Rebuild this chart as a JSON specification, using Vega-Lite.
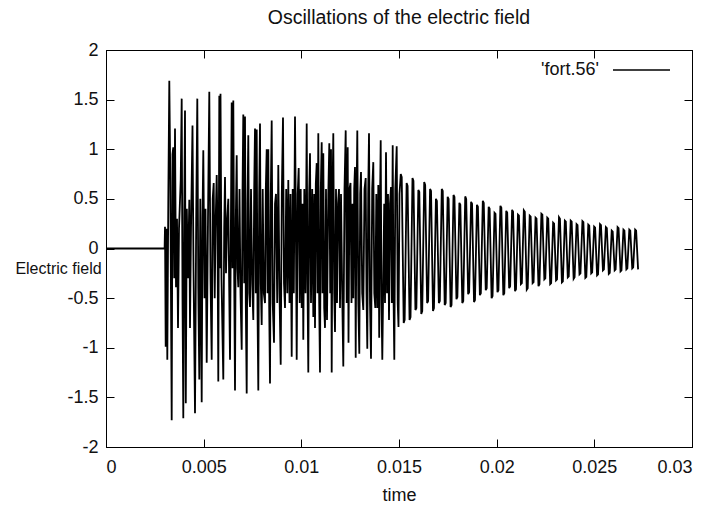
{
  "$schema": "https://vega.github.io/schema/vega-lite/v6.json",
  "width": 586,
  "height": 397,
  "autosize": "none",
  "padding": {"left": 106, "top": 50, "right": 26, "bottom": 59},
  "background": "white",
  "title": {"text": "Oscillations of the electric field", "font": "Liberation Sans", "fontSize": 19.5, "fontWeight": "normal", "color": "#111", "offset": 12, "anchor": "middle"},
  "config": {
    "view": {"stroke": "black", "strokeWidth": 1},
    "font": "Liberation Sans",
    "axis": {"grid": false, "tickColor": "black", "domainColor": "black", "tickSize": -8, "labelFont": "Liberation Sans", "labelFontSize": 18, "labelColor": "#111", "titleFont": "Liberation Sans", "titleFontSize": 18, "titleFontWeight": "normal", "titleColor": "#111"}
  },
  "layer": [
    {
      "data": {"values": [
        {"t":0,"e":0},{"t":0.003,"e":0},{"t":0.0030205,"e":0.22},{"t":0.0030563,"e":-0.99},{"t":0.0030973,"e":0.2},{"t":0.0031382,"e":-1.12},{"t":0.0031894,"e":0.5},{"t":0.0032406,"e":1.69},{"t":0.0032918,"e":0.7},{"t":0.0033635,"e":-1.73},{"t":0.0034045,"e":0.95},{"t":0.0034454,"e":1.02},{"t":0.0034915,"e":-0.3},{"t":0.0035325,"e":1.21},{"t":0.0035837,"e":-0.39},{"t":0.0036348,"e":0.3},{"t":0.003686,"e":-0.8},{"t":0.0037372,"e":0.2},{"t":0.0038243,"e":0.69},{"t":0.0038755,"e":1.51},{"t":0.0039164,"e":-0.5},{"t":0.0039574,"e":-1.71},{"t":0.0040034,"e":0.3},{"t":0.0040444,"e":1.39},{"t":0.0040854,"e":-1.56},{"t":0.0041366,"e":0.4},{"t":0.004198,"e":-0.3},{"t":0.0042645,"e":0.49},{"t":0.0043004,"e":-0.8},{"t":0.0043516,"e":0.2},{"t":0.0044284,"e":1.24},{"t":0.0044796,"e":-0.2},{"t":0.0045564,"e":-1.66},{"t":0.0046178,"e":0.3},{"t":0.0046741,"e":1.51},{"t":0.0047253,"e":-0.4},{"t":0.0047765,"e":-1.32},{"t":0.0048277,"e":0.5},{"t":0.0048994,"e":-1.55},{"t":0.0049403,"e":0.3},{"t":0.0049813,"e":0.99},{"t":0.0050427,"e":-0.5},{"t":0.0050939,"e":0.4},{"t":0.0051553,"e":-1.15},{"t":0.0052219,"e":0.3},{"t":0.0052884,"e":1.58},{"t":0.0053499,"e":-0.3},{"t":0.0054113,"e":-1.12},{"t":0.0054625,"e":0.5},{"t":0.0055137,"e":0.66},{"t":0.0055649,"e":-0.5},{"t":0.0056161,"e":0.3},{"t":0.0056673,"e":0.74},{"t":0.0057082,"e":0.2},{"t":0.0057492,"e":-1.34},{"t":0.0058004,"e":1.54},{"t":0.0058311,"e":-0.2},{"t":0.0058618,"e":1.56},{"t":0.005913,"e":-0.3},{"t":0.0060052,"e":-1.32},{"t":0.0060512,"e":0.2},{"t":0.0060922,"e":0.72},{"t":0.0061434,"e":-0.25},{"t":0.0062048,"e":0.3},{"t":0.0062611,"e":0.5},{"t":0.0063072,"e":-0.4},{"t":0.0063482,"e":-1.12},{"t":0.0063994,"e":0.4},{"t":0.0064352,"e":1.47},{"t":0.0064762,"e":-0.2},{"t":0.0065171,"e":1.49},{"t":0.0065632,"e":-0.3},{"t":0.0066042,"e":-1.43},{"t":0.0066451,"e":0.3},{"t":0.0066912,"e":0.94},{"t":0.0067321,"e":-0.2},{"t":0.0067731,"e":-0.39},
        {"t":0.0068345,"e":0.6},{"t":0.0068857,"e":-0.45},{"t":0.0069472,"e":-1.02},{"t":0.0069881,"e":0.55},{"t":0.0070291,"e":1.35},{"t":0.0070751,"e":-0.35},{"t":0.0071161,"e":1.33},{"t":0.0071571,"e":-0.55},{"t":0.0072031,"e":-1.46},{"t":0.0072441,"e":0.45},{"t":0.007285,"e":1.14},{"t":0.0073311,"e":-0.45},{"t":0.0073721,"e":-0.59},{"t":0.0074233,"e":0.6},{"t":0.0074847,"e":-0.35},{"t":0.007541,"e":-0.72},{"t":0.0075871,"e":0.6},{"t":0.0076281,"e":1.21},{"t":0.007669,"e":-0.45},{"t":0.0077151,"e":1.2},{"t":0.007756,"e":-0.6},{"t":0.007797,"e":-1.43},{"t":0.0078431,"e":0.55},{"t":0.007884,"e":1.26},{"t":0.007925,"e":-0.35},{"t":0.0079711,"e":-0.77},{"t":0.0080223,"e":0.6},{"t":0.0080786,"e":-0.45},{"t":0.00814,"e":-0.55},{"t":0.008181,"e":0.6},{"t":0.008227,"e":1.0},{"t":0.008268,"e":-0.45},{"t":0.0083089,"e":1.0},{"t":0.008355,"e":-0.6},{"t":0.008396,"e":-1.36},{"t":0.0084369,"e":0.55},{"t":0.008483,"e":1.29},{"t":0.0085342,"e":-0.55},{"t":0.0086008,"e":-0.95},{"t":0.008652,"e":0.45},{"t":0.0087032,"e":0.55},{"t":0.0087646,"e":-0.55},{"t":0.0088209,"e":0.84},{"t":0.0088823,"e":-0.45},{"t":0.0089438,"e":-1.17},{"t":0.0090001,"e":0.55},{"t":0.0090615,"e":1.32},{"t":0.0091127,"e":-0.35},{"t":0.0091639,"e":-0.6},{"t":0.0092253,"e":0.6},{"t":0.0092817,"e":-0.45},{"t":0.0093328,"e":0.69},{"t":0.0093943,"e":-0.55},{"t":0.0094455,"e":0.55},{"t":0.0095069,"e":-1.09},{"t":0.0095581,"e":0.6},{"t":0.0096144,"e":-0.45},{"t":0.0096759,"e":1.33},{"t":0.0097168,"e":0.35},{"t":0.0097629,"e":-1.12},{"t":0.0098141,"e":0.55},{"t":0.0098653,"e":0.81},{"t":0.0099165,"e":-0.55},{"t":0.0099677,"e":0.6},{"t":0.0100189,"e":-0.6},{"t":0.0100598,"e":0.45},{"t":0.0101008,"e":-0.92},{"t":0.010152,"e":0.6},{"t":0.0102134,"e":-0.45},{"t":0.0102748,"e":1.26},{"t":0.0103158,"e":-0.35},{"t":0.0103567,"e":-1.25},{"t":0.0104028,"e":0.55},{"t":0.0104438,"e":0.96},{"t":0.010495,"e":-0.55},{"t":0.0105564,"e":0.6},{"t":0.0106127,"e":-0.69},{"t":0.0106588,"e":0.55},{"t":0.0106998,"e":-0.8},{"t":0.0107407,"e":0.65},{"t":0.0107868,"e":0.86},{"t":0.0108277,"e":-0.45},{"t":0.0108687,"e":1.16},{"t":0.0109148,"e":-0.55},{"t":0.0109557,"e":-1.25},{"t":0.0109967,"e":0.6},{"t":0.0110428,"e":1.07},{"t":0.0110837,"e":-0.45},{"t":0.0111247,"e":0.96},{"t":0.0111707,"e":-0.6},{"t":0.0112117,"e":-0.8},{"t":0.0112629,"e":0.6},{"t":0.0113141,"e":-0.72},{"t":0.0113806,"e":0.55},{"t":0.0114318,"e":1.06},{"t":0.0114779,"e":-0.45},{"t":0.0115189,"e":1.0},{"t":0.0115547,"e":-1.25},{"t":0.0115957,"e":0.55},{"t":0.0116366,"e":1.16},{"t":0.0116827,"e":-0.45},{"t":0.0117237,"e":-0.84},{"t":0.0117749,"e":0.6},{"t":0.011826,"e":-0.55},{"t":0.0118772,"e":0.45},{"t":0.0119284,"e":0.6},{"t":0.0119796,"e":-0.6},{"t":0.0120308,"e":0.55},{"t":0.0120923,"e":-0.45},{"t":0.0121486,"e":-1.19},{"t":0.01221,"e":0.6},{"t":0.0122714,"e":1.19},{"t":0.0123226,"e":-0.55},{"t":0.0123738,"e":1.02},{"t":0.0124148,"e":-0.95},{"t":0.012466,"e":0.6},{"t":0.0125172,"e":0.66},{"t":0.0125684,"e":-0.55},{"t":0.0126196,"e":0.45},{"t":0.0126605,"e":-0.5},{"t":0.0127066,"e":0.6},{"t":0.0127476,"e":0.82},{"t":0.0127834,"e":-1.1},{"t":0.0128244,"e":0.45},{"t":0.0128653,"e":1.19},{"t":0.0129165,"e":-0.55},{"t":0.0129677,"e":-1.06},{"t":0.0130138,"e":0.55},{"t":0.0130547,"e":0.77},{"t":0.0131162,"e":-0.45},{"t":0.0131725,"e":-0.62},{"t":0.0132339,"e":0.6},{"t":0.0132953,"e":0.71},{"t":0.0133363,"e":-0.45},{"t":0.0133773,"e":-1.01},{"t":0.0134233,"e":0.55},{"t":0.0134643,"e":1.16},{"t":0.0135155,"e":-0.55},{"t":0.0135667,"e":-1.11},{"t":0.0136281,"e":0.6},{"t":0.0136844,"e":0.87},{"t":0.0137356,"e":-0.45},{"t":0.0137868,"e":-0.6},{"t":0.013838,"e":0.55},{"t":0.0138892,"e":-0.6},{"t":0.0139404,"e":0.64},{"t":0.0139865,"e":-0.9},{"t":0.0140274,"e":0.45},{"t":0.0140633,"e":1.09},{"t":0.0141042,"e":-0.55},{"t":0.0141452,"e":-1.12},{"t":0.0142424,"e":0.45},{"t":0.0142834,"e":-0.55},{"t":0.0143346,"e":0.97},{"t":0.0143858,"e":-0.45},{"t":0.014437,"e":0.55},{"t":0.0144882,"e":-0.72},{"t":0.0145394,"e":0.45},{"t":0.0145906,"e":0.62},{"t":0.0146315,"e":-0.55},{"t":0.0146776,"e":1.04},{"t":0.0147186,"e":-0.45},{"t":0.0147595,"e":-1.12},{"t":0.0148107,"e":0.6},{"t":0.0148824,"e":1.03},{"t":0.0149336,"e":-0.55},{"t":0.0149745,"e":-0.79},{"t":0.0150257,"e":0.55},
        {"t":0.01509,"e":0.75},{"t":0.01514,"e":0.72},{"t":0.01524,"e":-0.75},{"t":0.01529,"e":-0.72},
        {"t":0.01539,"e":0.66},{"t":0.01544,"e":0.63},{"t":0.01554,"e":-0.72},{"t":0.01559,"e":-0.69},
        {"t":0.01569,"e":0.71},{"t":0.01574,"e":0.68},{"t":0.01584,"e":-0.62},{"t":0.01589,"e":-0.6},
        {"t":0.01599,"e":0.59},{"t":0.01604,"e":0.57},{"t":0.01614,"e":-0.66},{"t":0.01619,"e":-0.63},
        {"t":0.01629,"e":0.67},{"t":0.01634,"e":0.64},{"t":0.01644,"e":-0.55},{"t":0.01649,"e":-0.53},
        {"t":0.01659,"e":0.6},{"t":0.01664,"e":0.58},{"t":0.01674,"e":-0.63},{"t":0.01679,"e":-0.6},
        {"t":0.01689,"e":0.5},{"t":0.01694,"e":0.48},{"t":0.01704,"e":-0.55},{"t":0.01709,"e":-0.53},
        {"t":0.01719,"e":0.6},{"t":0.01724,"e":0.58},{"t":0.01734,"e":-0.57},{"t":0.01739,"e":-0.55},
        {"t":0.01749,"e":0.52},{"t":0.01754,"e":0.5},{"t":0.01764,"e":-0.59},{"t":0.01769,"e":-0.57},
        {"t":0.01779,"e":0.54},{"t":0.01784,"e":0.52},{"t":0.01794,"e":-0.51},{"t":0.01799,"e":-0.49},
        {"t":0.01809,"e":0.46},{"t":0.01814,"e":0.44},{"t":0.01824,"e":-0.55},{"t":0.01829,"e":-0.53},
        {"t":0.01839,"e":0.525},{"t":0.01844,"e":0.5},{"t":0.01854,"e":-0.46},{"t":0.01859,"e":-0.44},
        {"t":0.01869,"e":0.47},{"t":0.01874,"e":0.45},{"t":0.01884,"e":-0.54},{"t":0.01889,"e":-0.52},
        {"t":0.01899,"e":0.44},{"t":0.01904,"e":0.42},{"t":0.01914,"e":-0.47},{"t":0.01919,"e":-0.45},
        {"t":0.01929,"e":0.48},{"t":0.01934,"e":0.46},{"t":0.01944,"e":-0.42},{"t":0.01949,"e":-0.4},
        {"t":0.01959,"e":0.42},{"t":0.01964,"e":0.4},{"t":0.01974,"e":-0.5},{"t":0.01979,"e":-0.48},
        {"t":0.01989,"e":0.36},{"t":0.01994,"e":0.35},{"t":0.02004,"e":-0.44},{"t":0.02009,"e":-0.42},
        {"t":0.02019,"e":0.43},{"t":0.02024,"e":0.41},{"t":0.02034,"e":-0.47},{"t":0.02039,"e":-0.45},
        {"t":0.02049,"e":0.38},{"t":0.02054,"e":0.36},{"t":0.02064,"e":-0.4},{"t":0.02069,"e":-0.38},
        {"t":0.02079,"e":0.39},{"t":0.02084,"e":0.37},{"t":0.02094,"e":-0.43},{"t":0.02099,"e":-0.41},
        {"t":0.02109,"e":0.34},{"t":0.02114,"e":0.33},{"t":0.02124,"e":-0.36},{"t":0.02129,"e":-0.35},
        {"t":0.02139,"e":0.385},{"t":0.02144,"e":0.37},{"t":0.02154,"e":-0.415},{"t":0.02159,"e":-0.4},
        {"t":0.02169,"e":0.33},{"t":0.02174,"e":0.32},{"t":0.02184,"e":-0.35},{"t":0.02189,"e":-0.34},
        {"t":0.02199,"e":0.31},{"t":0.02204,"e":0.3},{"t":0.02214,"e":-0.38},{"t":0.02219,"e":-0.36},
        {"t":0.02229,"e":0.35},{"t":0.02234,"e":0.34},{"t":0.02244,"e":-0.31},{"t":0.02249,"e":-0.3},
        {"t":0.02259,"e":0.31},{"t":0.02264,"e":0.3},{"t":0.02274,"e":-0.36},{"t":0.02279,"e":-0.35},
        {"t":0.02289,"e":0.26},{"t":0.02294,"e":0.25},{"t":0.02304,"e":-0.32},{"t":0.02309,"e":-0.31},
        {"t":0.02319,"e":0.315},{"t":0.02324,"e":0.3},{"t":0.02334,"e":-0.34},{"t":0.02339,"e":-0.33},
        {"t":0.02349,"e":0.28},{"t":0.02354,"e":0.27},{"t":0.02364,"e":-0.29},{"t":0.02369,"e":-0.28},
        {"t":0.02379,"e":0.28},{"t":0.02384,"e":0.27},{"t":0.02394,"e":-0.305},{"t":0.02399,"e":-0.29},
        {"t":0.02409,"e":0.245},{"t":0.02414,"e":0.235},{"t":0.02424,"e":-0.26},{"t":0.02429,"e":-0.25},
        {"t":0.02439,"e":0.275},{"t":0.02444,"e":0.265},{"t":0.02454,"e":-0.295},{"t":0.02459,"e":-0.285},
        {"t":0.02469,"e":0.24},{"t":0.02474,"e":0.23},{"t":0.02484,"e":-0.25},{"t":0.02489,"e":-0.24},
        {"t":0.02499,"e":0.22},{"t":0.02504,"e":0.21},{"t":0.02514,"e":-0.27},{"t":0.02519,"e":-0.26},
        {"t":0.02529,"e":0.245},{"t":0.02534,"e":0.235},{"t":0.02544,"e":-0.22},{"t":0.02549,"e":-0.21},
        {"t":0.02559,"e":0.215},{"t":0.02564,"e":0.205},{"t":0.02574,"e":-0.255},{"t":0.02579,"e":-0.245},
        {"t":0.02589,"e":0.18},{"t":0.02594,"e":0.17},{"t":0.02604,"e":-0.22},{"t":0.02609,"e":-0.21},
        {"t":0.02619,"e":0.215},{"t":0.02624,"e":0.205},{"t":0.02634,"e":-0.23},{"t":0.02639,"e":-0.22},
        {"t":0.02649,"e":0.19},{"t":0.02654,"e":0.18},{"t":0.02664,"e":-0.21},{"t":0.02669,"e":-0.2},
        {"t":0.02679,"e":0.19},{"t":0.02684,"e":0.18},{"t":0.02694,"e":-0.2},{"t":0.02699,"e":-0.19},
        {"t":0.02709,"e":0.19},{"t":0.02714,"e":0.18},{"t":0.02724,"e":-0.21}
      ]},
      "mark": {"type": "line", "strokeWidth": 1.8},
      "encoding": {
        "x": {"field": "t", "type": "quantitative", "scale": {"domain": [0, 0.03], "nice": false, "zero": false},
              "axis": {"orient": "bottom", "values": [0, 0.005, 0.01, 0.015, 0.02, 0.025, 0.03], "labelExpr": "toString(datum.value)", "labelPadding": 19, "title": "time", "titlePadding": 10}},
        "y": {"field": "e", "type": "quantitative", "scale": {"domain": [-2, 2], "nice": false, "zero": false},
              "axis": {"orient": "left", "values": [-2, -1.5, -1, -0.5, 0, 0.5, 1, 1.5, 2], "labelExpr": "toString(datum.value)", "labelPadding": 16, "title": "Electric field", "titleFontSize": 16, "titleAngle": 0, "titleX": -48, "titleY": 218, "titleAlign": "center", "titleBaseline": "middle"}},
        "color": {"datum": "'fort.56'", "type": "nominal", "scale": {"range": ["black"]},
                  "legend": {"orient": "none", "legendX": 506, "legendY": -9.5, "title": null, "padding": 0, "symbolType": "stroke", "symbolSize": 3249, "symbolStrokeWidth": 1.5, "labelAlign": "right", "labelOffset": -72, "labelFont": "Liberation Sans", "labelFontSize": 18, "labelColor": "#111"}}
      }
    },
    {
      "data": {"values": [{"t": 0, "e": 0}]},
      "mark": {"type": "point", "opacity": 0},
      "encoding": {
        "x": {"field": "t", "type": "quantitative", "axis": {"orient": "top", "values": [0, 0.005, 0.01, 0.015, 0.02, 0.025, 0.03], "labels": false, "title": null}},
        "y": {"field": "e", "type": "quantitative", "axis": {"orient": "right", "values": [-2, -1.5, -1, -0.5, 0, 0.5, 1, 1.5, 2], "labels": false, "title": null}}
      }
    }
  ],
  "resolve": {"axis": {"x": "independent", "y": "independent"}}
}
